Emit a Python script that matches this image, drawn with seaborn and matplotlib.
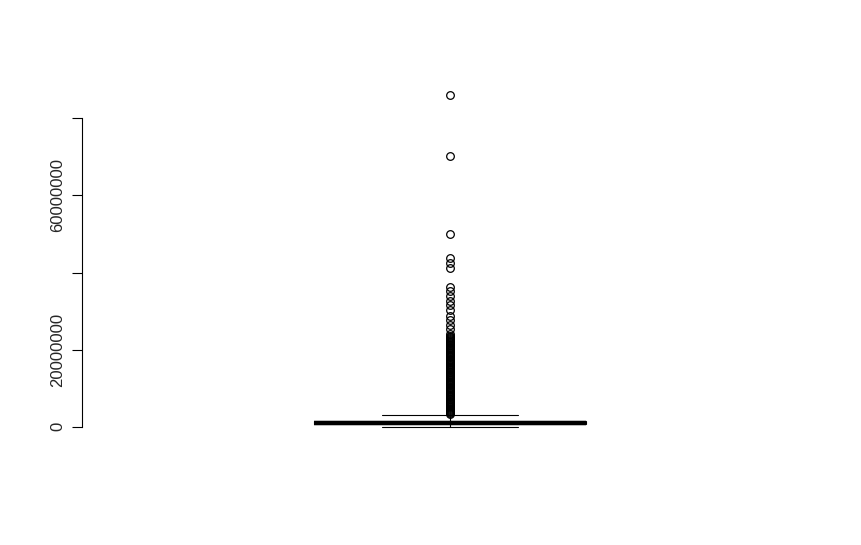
import matplotlib.pyplot as plt
import seaborn as sns
import pandas as pd
import numpy as np

sns.set_style("white")
plt.rcParams['font.family'] = ['Liberation Sans', 'DejaVu Sans']

# bulk of the distribution, in millions (value, how many observations)
bulk_values = [0, 0.6, 1.1, 1.6, 3.0]
bulk_counts = [1, 400, 400, 400, 1]

# outliers, in millions
outliers_sparse = [86.1, 70.2, 50.0, 43.7, 42.6, 41.1, 36.3, 35.1, 33.9, 32.6,
                   31.5, 30.2, 28.7, 27.6, 26.4, 25.3, 24.0]
outliers_dense = [23.6, 23.3, 23.0, 22.8, 22.5, 22.2, 21.9, 21.6, 21.3, 21.1,
                  20.8, 20.5, 20.2, 19.9, 19.7, 19.4, 19.1, 18.8, 18.5, 18.3,
                  18.0, 17.7, 17.4, 17.1, 16.9, 16.6, 16.3, 16.0, 15.7, 15.5,
                  15.2, 14.9, 14.6, 14.3, 14.1, 13.8, 13.5, 13.2, 12.9, 12.7,
                  12.4, 12.1, 11.8, 11.5, 11.3, 11.0, 10.7, 10.4, 10.1, 9.9,
                  9.6, 9.3, 9.0, 8.7, 8.5, 8.2, 7.9, 7.6, 7.3, 7.1,
                  6.8, 6.5, 6.2, 5.9, 5.7, 5.4, 5.1, 4.8, 4.5, 4.3,
                  4.0, 3.8, 3.6, 3.4]

values = np.concatenate([np.repeat(bulk_values, bulk_counts),
                         outliers_sparse, outliers_dense]) * 1e6
df = pd.DataFrame({'value': values})

fig = plt.figure(figsize=(8.61, 5.45), dpi=100)
ax = fig.add_axes([82 / 861, 1 - 440 / 545, 736 / 861, 358 / 545])

sns.boxplot(data=df, y='value', ax=ax, width=0.4, color='white', linecolor='black',
            linewidth=0.8, whis=1.5,
            medianprops=dict(linewidth=3.2, color='black'),
            whiskerprops=dict(linestyle='--', linewidth=0.8),
            capprops=dict(linewidth=0.8),
            flierprops=dict(marker='o', markerfacecolor='none', markeredgecolor='black',
                            markersize=5.5, markeredgewidth=0.9))

ax.set_xlim(-0.54, 0.54)
ax.set_ylim(-3440000, 89440000)
ax.set_xlabel("")
ax.set_ylabel("")
ax.set_xticks([])

ticks = [0, 20000000, 40000000, 60000000, 80000000]
tick_labels = ["0", "20000000", "", "60000000", ""]
ax.set_yticks(ticks)
ax.set_yticklabels(tick_labels, rotation=90, va='center', fontsize=12)
ax.tick_params(axis='y', left=True, length=7, width=0.8, pad=5, color='black')

for s in ['top', 'right', 'bottom']:
    ax.spines[s].set_visible(False)
ax.spines['left'].set_bounds(0, 80000000)
ax.spines['left'].set_linewidth(0.8)
ax.spines['left'].set_color('black')

fig.savefig("out.png", dpi=100)
